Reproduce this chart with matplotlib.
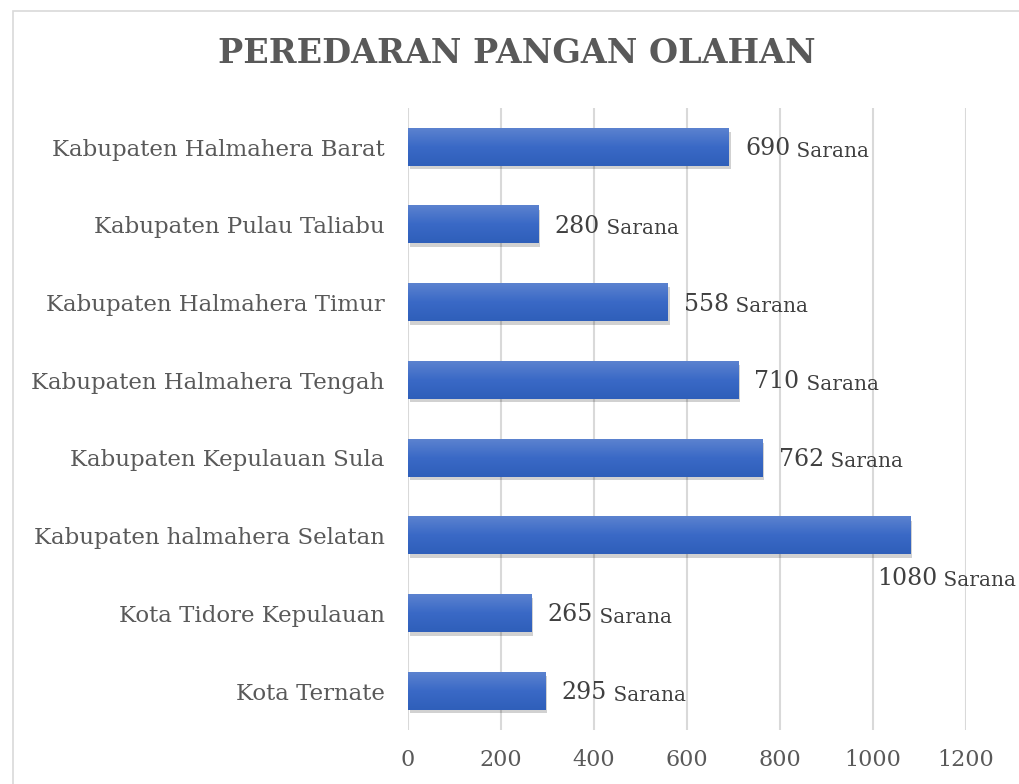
import numpy as np
import matplotlib
matplotlib.use("Agg")
import matplotlib.pyplot as plt
from matplotlib.colors import LinearSegmentedColormap
from matplotlib.patches import Rectangle
import matplotlib.patheffects as pe

regions = ["Kabupaten Halmahera Barat", "Kabupaten Pulau Taliabu", "Kabupaten Halmahera Timur",
           "Kabupaten Halmahera Tengah", "Kabupaten Kepulauan Sula", "Kabupaten halmahera Selatan",
           "Kota Tidore Kepulauan", "Kota Ternate"]
counts = [690, 280, 558, 710, 762, 1080, 265, 295]
unit = "Sarana"
xticks = [0, 200, 400, 600, 800, 1000, 1200]

GRAY = "#595959"
SERIF = "DejaVu Serif"
fig = plt.figure(figsize=(10.2, 7.84), dpi=100)
fig.patches.append(Rectangle((13/1020, -0.1), 1.2, 1 - 11/784 + 0.1, transform=fig.transFigure,
                             fill=False, edgecolor="#d9d9d9", lw=1.2))
ax = fig.add_axes([0.4, 0.0689, 0.547, 0.793])
grad = LinearSegmentedColormap.from_list("g", ["#5b82cf", "#3a69c6", "#2f5fba"])
h = 0.48
nums = []
for i, v in enumerate(counts):
    sh = Rectangle((0, i - h/2), v, h, facecolor="white", edgecolor="none", zorder=2,
                   path_effects=[pe.SimplePatchShadow(offset=(1.5, -2.5), shadow_rgbFace="#000000", alpha=0.18),
                                 pe.Normal()])
    ax.add_patch(sh)
    ax.imshow(np.linspace(0, 1, 50).reshape(-1, 1), extent=[0, v, i + h/2, i - h/2], aspect="auto",
              cmap=grad, origin="upper", zorder=3, interpolation="bilinear")
    if v > 1000:
        tx, ty = v - 72, i + 0.55
    else:
        tx, ty = v + 35, i + 0.02
    nums.append(ax.text(tx, ty, f"{v}", fontsize=17, color="#404040", family=SERIF, va="center", ha="left"))
ax.set_xlim(0, 1200)
ax.set_ylim(len(counts) - 0.5, -0.5)
fig.canvas.draw()
rend = fig.canvas.get_renderer()
# smaller "Sarana" right after each number
for t in nums:
    bb = t.get_window_extent(rend)
    x, _ = ax.transData.inverted().transform((bb.x1, (bb.y0 + bb.y1) / 2))
    ax.text(x, t.get_position()[1] + 0.03, " " + unit, fontsize=14.5, color="#404040", family=SERIF,
            va="center", ha="left")
ax.set_xticks(xticks)
ax.set_yticks(range(len(regions)))
ax.set_yticklabels(regions, fontsize=16.5, color=GRAY, family=SERIF)
ax.tick_params(axis="x", labelsize=16, colors=GRAY, length=0, pad=14)
ax.tick_params(axis="y", length=0, pad=17)
for lab in ax.get_xticklabels():
    lab.set_family(SERIF)
ax.grid(axis="x", color="#d9d9d9", lw=1.5, zorder=0)
ax.set_axisbelow(True)
for s in ax.spines.values():
    s.set_visible(False)
fig.text(0.507, 0.932, "PEREDARAN PANGAN OLAHAN", ha="center", va="center", fontsize=24,
         weight="bold", color=GRAY, family=SERIF)
fig.savefig("out.png", dpi=100)
